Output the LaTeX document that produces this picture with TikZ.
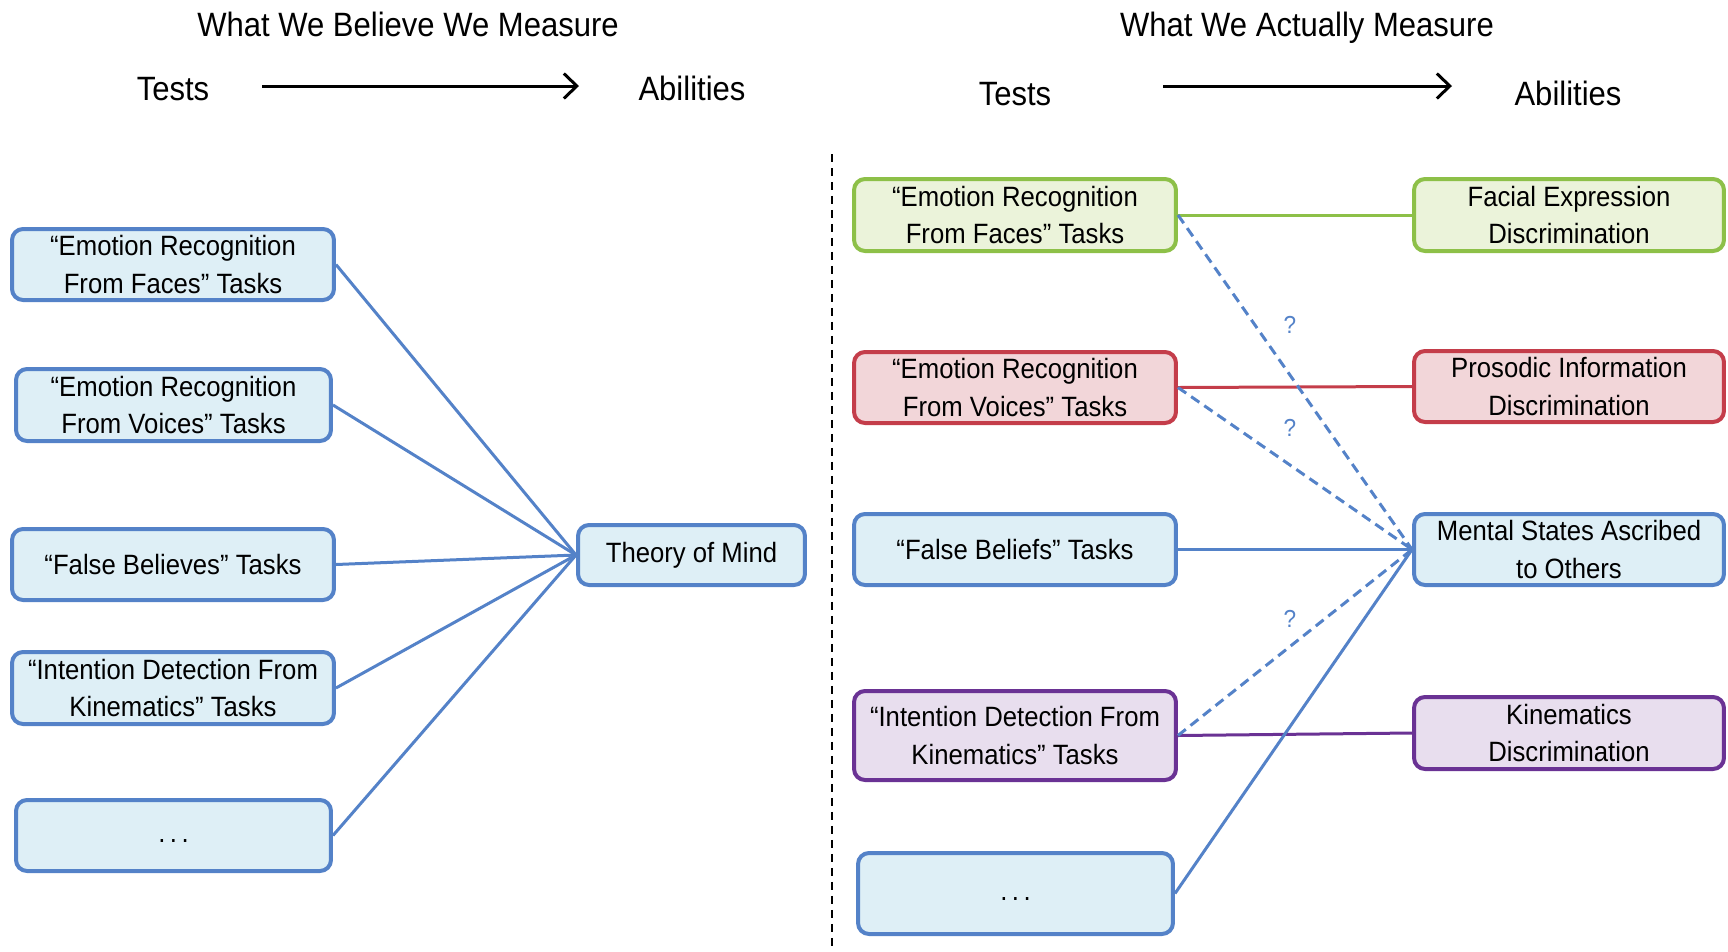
\documentclass[tikz,border=0pt]{standalone}
\usepackage{fontspec}
\setmainfont[FakeStretch=0.92]{Liberation Sans}
\usetikzlibrary{arrows.meta}
\definecolor{bln}{RGB}{84,130,200}
\definecolor{blf}{RGB}{222,239,246}
\definecolor{grn}{RGB}{141,192,72}
\definecolor{grf}{RGB}{235,243,218}
\definecolor{rdn}{RGB}{196,61,74}
\definecolor{rdf}{RGB}{242,214,217}
\definecolor{ppn}{RGB}{106,50,148}
\definecolor{ppf}{RGB}{232,222,238}
\newcommand{\mydots}{\vphantom{Ag}.\hspace{0.09cm}.\hspace{0.09cm}.}
\tikzset{
  boxbase/.style={draw, rounded corners=0.22cm, line width=0.08cm, align=center, inner sep=0pt,
    font=\fontsize{15.9pt}{21.3pt}\selectfont},
  bluebox/.style={boxbase, draw=bln, fill=blf},
  greenbox/.style={boxbase, draw=grn, fill=grf},
  redbox/.style={boxbase, draw=rdn, fill=rdf},
  purplebox/.style={boxbase, draw=ppn, fill=ppf},
  headtext/.style={font=\fontsize{19.2pt}{22pt}\selectfont, inner sep=0pt, anchor=base},
  conn/.style={line width=0.06cm},
  dconn/.style={line width=0.06cm, draw=bln, dash pattern=on 0.2cm off 0.12cm},
  qmark/.style={text=bln, font=\fontsize{14pt}{16pt}\selectfont, inner sep=0pt},
  bigarrow/.style={line width=0.06cm, -{Straight Barb[length=0.26cm,width=0.5cm,line width=0.06cm]}}
}
\begin{document}
\begin{tikzpicture}[x=0.02cm,y=-0.02cm]
\useasboundingbox (0,0) rectangle (1728,951);
% headings
\node[headtext] (h1) at (408,36) {What We Believe We Measure};
\node[headtext] (t1) at (173,100) {Tests};
\node[headtext] (ab1) at (692,100) {Abilities};
\coordinate (a1s) at (262,86);
\coordinate (a1e) at (579,86);
\draw[bigarrow] (a1s) -- (a1e);
\node[headtext] (h2) at (1307,36) {What We Actually Measure};
\node[headtext] (t2) at (1015,105.5) {Tests};
\node[headtext] (ab2) at (1568,105.5) {Abilities};
\coordinate (a2s) at (1163,86);
\coordinate (a2e) at (1452,86);
\draw[bigarrow] (a2s) -- (a2e);
% separator
\coordinate (sepT) at (832,154);
\coordinate (sepB) at (832,951);
\draw[line width=0.04cm, dash pattern=on 0.16cm off 0.12cm] (sepT) -- (sepB);
% left boxes
\node[bluebox, minimum width=6.44cm, minimum height=1.42cm] (l1) at (173,264.5) {“Emotion Recognition\\From Faces” Tasks};
\node[bluebox, minimum width=6.30cm, minimum height=1.44cm] (l2) at (173.5,405) {“Emotion Recognition\\From Voices” Tasks};
\node[bluebox, minimum width=6.44cm, minimum height=1.42cm] (l3) at (173,564.5) {“False Believes” Tasks};
\node[bluebox, minimum width=6.44cm, minimum height=1.44cm] (l4) at (173,688) {“Intention Detection From\\Kinematics” Tasks};
\node[bluebox, minimum width=6.30cm, minimum height=1.42cm] (l5) at (173.5,835.5) {\mydots};
\node[bluebox, minimum width=4.54cm, minimum height=1.20cm] (tom) at (691.5,555) {Theory of Mind};
\foreach \n in {l1,l2,l3,l4,l5} \draw[conn, bln] (\n.east) -- (tom.west);
% right boxes
\node[greenbox, minimum width=6.44cm, minimum height=1.44cm] (r1) at (1015,215) {“Emotion Recognition\\From Faces” Tasks};
\node[redbox, minimum width=6.44cm, minimum height=1.42cm] (r2) at (1015,387.5) {“Emotion Recognition\\From Voices” Tasks};
\node[bluebox, minimum width=6.44cm, minimum height=1.42cm] (r3) at (1015,549.5) {“False Beliefs” Tasks};
\node[purplebox, minimum width=6.44cm, minimum height=1.78cm] (r4) at (1015,735.5) {“Intention Detection From\\Kinematics” Tasks};
\node[bluebox, minimum width=6.30cm, minimum height=1.62cm] (r5) at (1015.5,893.5) {\mydots};
\node[greenbox, minimum width=6.20cm, minimum height=1.44cm] (b1) at (1569,215) {Facial Expression\\Discrimination};
\node[redbox, minimum width=6.20cm, minimum height=1.42cm] (b2) at (1569,386.5) {Prosodic Information\\Discrimination};
\node[bluebox, minimum width=6.20cm, minimum height=1.42cm] (b3) at (1569,549.5) {Mental States Ascribed\\to Others};
\node[purplebox, minimum width=6.20cm, minimum height=1.44cm] (b4) at (1569,733) {Kinematics\\Discrimination};
% right connectors
\draw[conn, grn] (r1.east) -- (b1.west);
\draw[conn, rdn] (r2.east) -- (b2.west);
\draw[conn, bln] (r3.east) -- (b3.west);
\draw[conn, ppn] (r4.east) -- (b4.west);
\draw[conn, bln] (r5.east) -- (b3.west);
\draw[dconn] (r1.east) -- (b3.west);
\draw[dconn] (r2.east) -- (b3.west);
\draw[dconn] (r4.east) -- (b3.west);
\node[qmark] (q1) at (1290,325) {?};
\node[qmark] (q2) at (1290,428) {?};
\node[qmark] (q3) at (1290,619) {?};
\end{tikzpicture}
\end{document}
